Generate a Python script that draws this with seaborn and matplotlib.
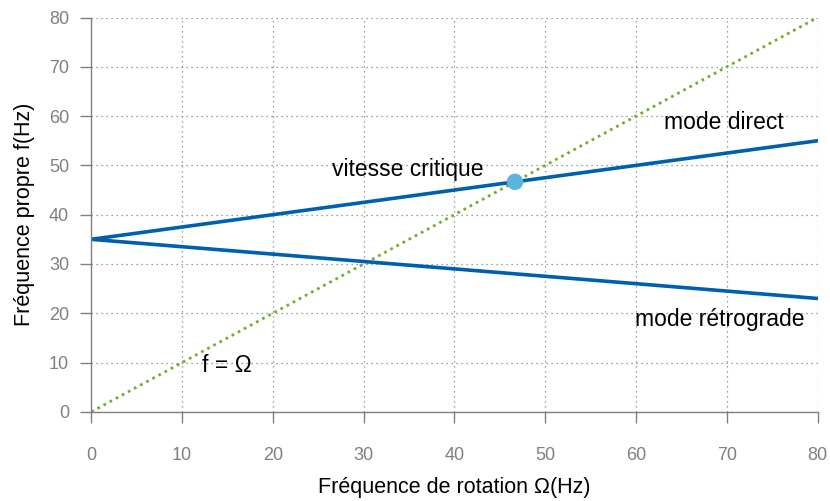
import numpy as np
import pandas as pd
import matplotlib
matplotlib.use("Agg")
import matplotlib.pyplot as plt
import seaborn as sns

# Data
omega = [0, 80]                 # rotation frequency (Hz)
f_direct = [35, 55]             # direct mode
f_retro = [35, 23]              # retrograde mode
f_identity = [0, 80]            # f = Omega
crit_omega = [46.67]            # critical speed
crit_f = [46.67]
ticks = [0, 10, 20, 30, 40, 50, 60, 70, 80]

sns.set_theme(style="white")
plt.rcParams['font.family'] = ['Liberation Sans', 'DejaVu Sans']

blue = "#0060ad"
green = "#77ac30"
grey = "#808080"

df = pd.DataFrame({"omega": omega, "direct": f_direct, "retro": f_retro, "ident": f_identity})

fig, ax = plt.subplots(figsize=(8.3, 5.01), dpi=100)

sns.lineplot(data=df, x="omega", y="ident", ax=ax, color=green, lw=2, linestyle=(0, (1, 1.5)))
sns.lineplot(data=df, x="omega", y="direct", ax=ax, color=blue, lw=2.6)
sns.lineplot(data=df, x="omega", y="retro", ax=ax, color=blue, lw=2.6)
sns.scatterplot(x=crit_omega, y=crit_f, ax=ax, color="#5ab4dc", s=140, edgecolor="none", zorder=5)

txt = dict(fontsize=16.5, ha="center", va="center", color="black")
ax.text(69.7, 58.7, "mode direct", **txt)
ax.text(34.9, 49.2, "vitesse critique", **txt)
ax.text(69.2, 18.7, "mode rétrograde", **txt)
ax.text(14.9, 9.4, "f = Ω", **txt)

ax.set_xlim(0, 80)
ax.set_ylim(0, 80)
ax.set_xticks(ticks)
ax.set_yticks(ticks)
ax.grid(True, color=grey, linestyle=(0, (1, 3)), lw=0.9)
ax.tick_params(axis="both", bottom=True, left=True, direction="out", length=8, width=1,
               color=grey, labelcolor=grey, labelsize=13)
ax.tick_params(axis="x", pad=17)
ax.tick_params(axis="y", pad=8)
for side in ["top", "right"]:
    ax.spines[side].set_visible(False)
for side in ["left", "bottom"]:
    ax.spines[side].set_color(grey)
    ax.spines[side].set_linewidth(1)

ax.set_xlabel("Fréquence de rotation Ω(Hz)", fontsize=15.5, color="black", labelpad=10)
ax.set_ylabel("Fréquence propre f(Hz)", fontsize=15.5, color="black", labelpad=10)

fig.subplots_adjust(left=0.11, right=0.985, top=0.965, bottom=0.178)
fig.savefig("out.png", dpi=100)
